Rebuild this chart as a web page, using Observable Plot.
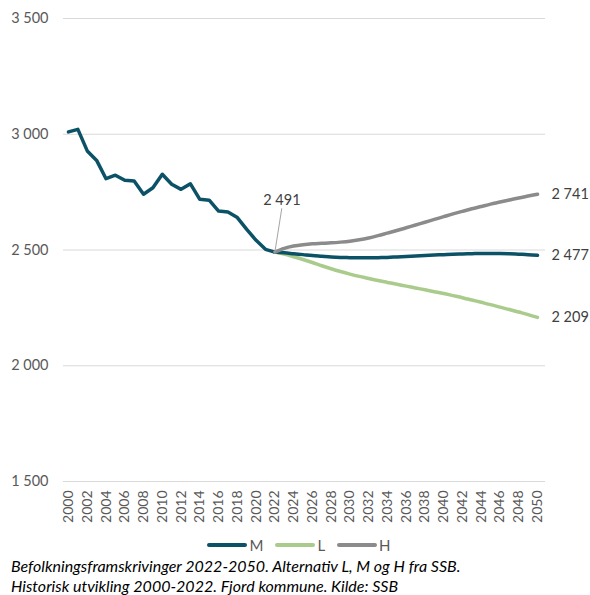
<!DOCTYPE html>
<html>
<head>
<meta charset="utf-8">
<script src="https://cdn.jsdelivr.net/npm/d3@7"></script>
<script src="https://cdn.jsdelivr.net/npm/@observablehq/plot@0.6"></script>
<style>
  html, body { margin: 0; padding: 0; background: #fff; }
  body { width: 590px; font-family: Lato, "Open Sans", sans-serif; color: #595959; }
  #legend { display: flex; justify-content: center; align-items: center; gap: 12px; height: 20px; margin-left: 8px; font-size: 15px; color: #595959; }
  .item { display: flex; align-items: center; }
  .sw { width: 40px; height: 4px; border-radius: 2px; margin-right: 2px; }
  #caption { font-style: italic; font-size: 16px; color: #000; margin-left: 11px; line-height: 20px; margin-top: 1px; }
</style>
</head>
<body>
<div id="chart"></div>
<div id="legend"></div>
<div id="caption"></div>
<script>
const histYears = [2000,2001,2002,2003,2004,2005,2006,2007,2008,2009,2010,2011,2012,2013,2014,2015,2016,2017,2018,2019,2020,2021,2022];
const histValues = [3010,3021,2928,2887,2808,2823,2801,2798,2741,2769,2827,2784,2762,2786,2719,2715,2668,2664,2640,2589,2542,2503,2491];

const projYears = [2022,2023,2024,2025,2026,2027,2028,2029,2030,2031,2032,2033,2034,2035,2036,2037,2038,2039,2040,2041,2042,2043,2044,2045,2046,2047,2048,2049,2050];
const mValues = [2491,2488,2484,2480,2476,2473,2470,2468,2467,2466,2466,2467,2468,2470,2472,2474,2476,2478,2480,2482,2483,2484,2485,2485,2485,2484,2482,2480,2477];
const lValues = [2491,2482,2471,2459,2446,2432,2419,2407,2396,2386,2377,2368,2360,2352,2344,2336,2328,2320,2312,2303,2294,2284,2274,2264,2253,2243,2232,2221,2209];
const hValues = [2491,2507,2517,2523,2527,2529,2531,2534,2538,2544,2552,2562,2573,2584,2596,2608,2620,2632,2644,2656,2667,2678,2688,2698,2707,2716,2725,2733,2741];

const yTicks = [1500,2000,2500,3000,3500];
const xTicks = [2000,2002,2004,2006,2008,2010,2012,2014,2016,2018,2020,2022,2024,2026,2028,2030,2032,2034,2036,2038,2040,2042,2044,2046,2048,2050];

const seriesNames = ["M","L","H"];
const colors = {M: "#0c5266", L: "#a9cb8b", H: "#8b8b8b"};

const fmt = d => d3.format(",")(d).replace(/,/g, "\u00a0");

const hist = histYears.map((y, i) => ({year: y, value: histValues[i]}));
const proj = s => projYears.map((y, i) => ({year: y, value: s[i]}));
const M = proj(mValues), L = proj(lValues), H = proj(hValues);
const last = projYears.length - 1;
const endLabels = [
  {year: 2050, value: hValues[last]},
  {year: 2050, value: mValues[last]},
  {year: 2050, value: lValues[last]}
];

const leader = {draw(ctx, l) { ctx.moveTo(0, 0); ctx.lineTo(0, -l); }};

const chart = Plot.plot({
  width: 590,
  height: 535,
  marginLeft: 63,
  marginRight: 45,
  marginTop: 18,
  marginBottom: 54,
  insetLeft: 5,
  insetRight: 8,
  style: {fontFamily: "Lato, Open Sans, sans-serif", color: "#595959", background: "#fff"},
  x: {domain: [2000, 2050]},
  y: {domain: [1500, 3500]},
  marks: [
    Plot.ruleY(yTicks, {stroke: "#d9d9d9", strokeWidth: 1}),
    Plot.axisY({ticks: yTicks, tickSize: 0, tickPadding: 15, tickFormat: fmt, fontSize: 14.5, label: null}),
    Plot.axisX({ticks: xTicks, tickSize: 0, tickPadding: 9, tickRotate: -90, tickFormat: d => String(d), fontSize: 14, label: null}),
    Plot.line(L, {x: "year", y: "value", stroke: colors.L, strokeWidth: 3.5, curve: "monotone-x"}),
    Plot.line(hist, {x: "year", y: "value", stroke: colors.M, strokeWidth: 3.5, curve: "linear", strokeLinejoin: "round"}),
    Plot.line(M, {x: "year", y: "value", stroke: colors.M, strokeWidth: 3.5, curve: "monotone-x"}),
    Plot.line(H, {x: "year", y: "value", stroke: colors.H, strokeWidth: 3.5, curve: "monotone-x"}),
    Plot.vector([hist[hist.length - 1]], {x: "year", y: "value", length: 44, rotate: 9, anchor: "start", shape: leader, stroke: "#a6a6a6", strokeWidth: 1}),
    Plot.text([hist[hist.length - 1]], {x: "year", y: "value", text: d => fmt(d.value), dx: 7, dy: -52, fontSize: 14.5, fill: "#404040"}),
    Plot.text(endLabels, {x: "year", y: "value", text: d => fmt(d.value), dx: 14, textAnchor: "start", fontSize: 14.5, fill: "#404040"})
  ]
});
document.getElementById("chart").appendChild(chart);

const legend = document.getElementById("legend");
for (const s of seriesNames) {
  const item = document.createElement("div");
  item.className = "item";
  const sw = document.createElement("div");
  sw.className = "sw";
  sw.style.background = colors[s];
  const t = document.createElement("span");
  t.textContent = s;
  item.appendChild(sw);
  item.appendChild(t);
  legend.appendChild(item);
}

const captionLines = [
  "Befolkningsframskrivinger 2022-2050. Alternativ L, M og H fra SSB.",
  "Historisk utvikling 2000-2022. Fjord kommune. Kilde: SSB"
];
document.getElementById("caption").innerHTML = captionLines.map(l => `<div>${l}</div>`).join("");
</script>
</body>
</html>
